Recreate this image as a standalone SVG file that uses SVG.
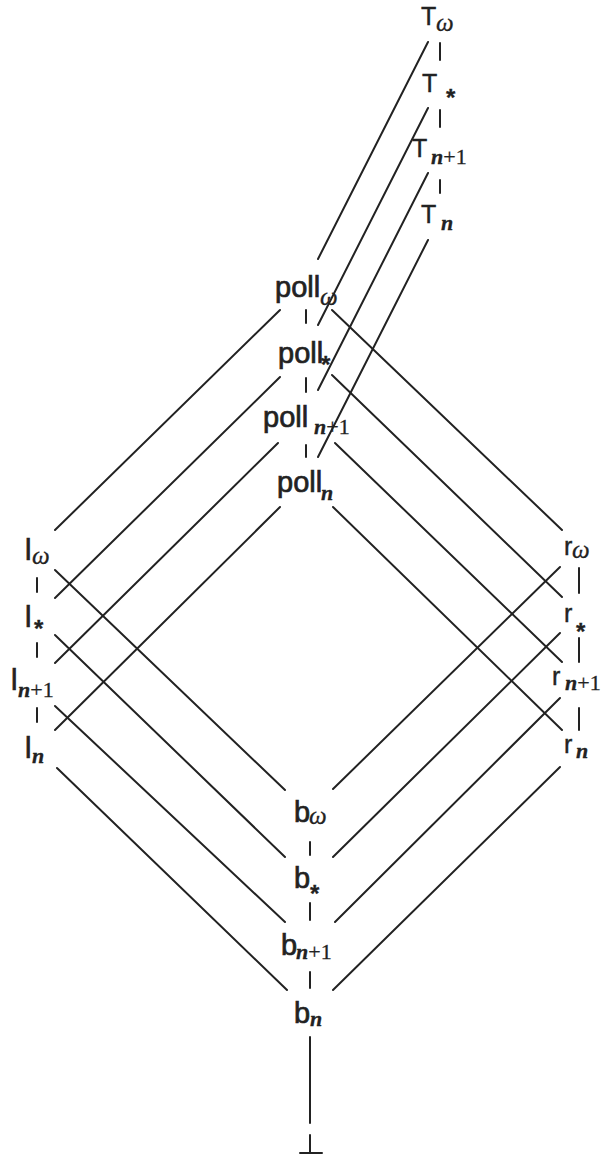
<svg xmlns="http://www.w3.org/2000/svg" width="603" height="1161" viewBox="0 0 603 1161">
<style>
.m{font-family:"Liberation Sans","DejaVu Sans",sans-serif;font-size:29px;fill:#222;stroke:#222;stroke-width:0.7}
.t{font-family:"Liberation Sans","DejaVu Sans",sans-serif;font-size:25px;fill:#222;stroke:#222;stroke-width:0.4}
.s{font-family:"Liberation Serif","DejaVu Serif",serif;font-size:22px;stroke-width:0.3}
.w{font-family:"Liberation Serif","DejaVu Serif",serif;font-size:25px;font-style:italic;stroke-width:0.3}
.a{font-family:"Liberation Sans","DejaVu Sans",sans-serif;font-size:24px;font-weight:bold;stroke-width:0.3}
.i{font-style:italic;font-weight:bold}
.c line{stroke:#222;stroke-width:2;stroke-linecap:round}
</style>
<rect width="603" height="1161" fill="#fff"/>
<g class="c" id="connectors">
<line x1="440" y1="43" x2="440" y2="60"/>
<line x1="440" y1="110" x2="440" y2="127"/>
<line x1="440" y1="180" x2="440" y2="193"/>
<line x1="306" y1="310" x2="306" y2="323"/>
<line x1="306" y1="378" x2="306" y2="392"/>
<line x1="306" y1="445" x2="306" y2="457"/>
<line x1="37" y1="578" x2="37" y2="592"/>
<line x1="37" y1="643" x2="37" y2="657"/>
<line x1="37" y1="708" x2="37" y2="722"/>
<line x1="579" y1="568" x2="579" y2="593"/>
<line x1="579" y1="638" x2="579" y2="662"/>
<line x1="579" y1="708" x2="579" y2="730"/>
<line x1="310" y1="842" x2="310" y2="855"/>
<line x1="310" y1="903" x2="310" y2="920"/>
<line x1="310" y1="972" x2="310" y2="988"/>
<line x1="310" y1="1037" x2="310" y2="1123"/>
<line x1="428" y1="42" x2="318" y2="259"/>
<line x1="428" y1="108" x2="318" y2="325"/>
<line x1="428" y1="173" x2="318" y2="390"/>
<line x1="428" y1="240" x2="318" y2="457"/>
<line x1="280" y1="310" x2="55" y2="530"/>
<line x1="280" y1="377" x2="55" y2="598"/>
<line x1="278" y1="443" x2="55" y2="663"/>
<line x1="280" y1="507" x2="55" y2="730"/>
<line x1="332" y1="310" x2="562" y2="530"/>
<line x1="332" y1="375" x2="562" y2="597"/>
<line x1="335" y1="443" x2="562" y2="662"/>
<line x1="333" y1="507" x2="562" y2="730"/>
<line x1="55" y1="570" x2="285" y2="790"/>
<line x1="55" y1="635" x2="285" y2="857"/>
<line x1="55" y1="706" x2="285" y2="922"/>
<line x1="57" y1="768" x2="287" y2="990"/>
<line x1="560" y1="567" x2="333" y2="789"/>
<line x1="560" y1="633" x2="333" y2="857"/>
<line x1="560" y1="698" x2="335" y2="922"/>
<line x1="560" y1="767" x2="333" y2="990"/>
</g>
<g id="T_omega"><text class="t" x="421" y="25">T<tspan class="w" x="436" y="31">ω</tspan></text></g>
<g id="T_star"><text class="t" x="422" y="92">T<tspan class="a" x="446" y="106">*</tspan></text></g>
<g id="T_n1"><text class="t" x="412" y="157">T<tspan class="s" x="431" y="164"><tspan class="i">n</tspan>+1</tspan></text></g>
<g id="T_n"><text class="t" x="421" y="223">T<tspan class="s i" x="441" y="230">n</tspan></text></g>
<g id="poll_omega"><text class="m" x="275" y="297">poll<tspan class="w" x="320" y="305">ω</tspan></text></g>
<g id="poll_star"><text class="m" x="278" y="363">poll<tspan class="a" x="321" y="373">*</tspan></text></g>
<g id="poll_n1"><text class="m" x="263" y="427">poll<tspan class="s" x="314" y="434"><tspan class="i">n</tspan>+1</tspan></text></g>
<g id="poll_n"><text class="m" x="277" y="492">poll<tspan class="s i" x="321" y="500">n</tspan></text></g>
<g id="l_omega"><text class="m" x="25" y="560">l<tspan class="w" x="32" y="564">ω</tspan></text></g>
<g id="l_star"><text class="m" x="25" y="627">l<tspan class="a" x="34" y="637">*</tspan></text></g>
<g id="l_n1"><text class="m" x="11" y="690">l<tspan class="s" x="18" y="697"><tspan class="i">n</tspan>+1</tspan></text></g>
<g id="l_n"><text class="m" x="25" y="758">l<tspan class="s i" x="32" y="763">n</tspan></text></g>
<g id="r_omega"><text class="t" x="564" y="555">r<tspan class="w" x="572" y="558">ω</tspan></text></g>
<g id="r_star"><text class="t" x="564" y="622">r<tspan class="a" x="576" y="640">*</tspan></text></g>
<g id="r_n1"><text class="t" x="552" y="685">r<tspan class="s" x="565" y="690"><tspan class="i">n</tspan>+1</tspan></text></g>
<g id="r_n"><text class="t" x="564" y="753">r<tspan class="s i" x="576" y="758">n</tspan></text></g>
<g id="b_omega"><text class="m" x="294" y="822">b<tspan class="w" x="309" y="824">ω</tspan></text></g>
<g id="b_star"><text class="m" x="294" y="888">b<tspan class="a" x="310" y="902">*</tspan></text></g>
<g id="b_n1"><text class="m" x="281" y="955">b<tspan class="s" x="296" y="959"><tspan class="i">n</tspan>+1</tspan></text></g>
<g id="b_n"><text class="m" x="294" y="1023">b<tspan class="s i" x="310" y="1026">n</tspan></text></g>
<g id="bottom" class="c"><line x1="310" y1="1135" x2="310" y2="1153"/><line x1="300" y1="1153" x2="322" y2="1153"/></g>
</svg>
